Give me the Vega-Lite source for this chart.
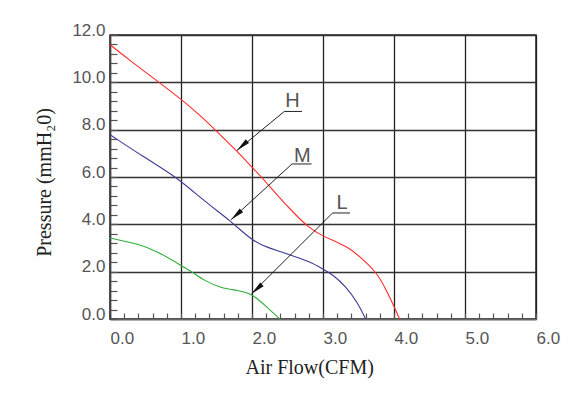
{
  "$schema": "https://vega.github.io/schema/vega-lite/v6.json",
  "autosize": "none",
  "width": 426,
  "height": 284,
  "padding": {"left": 110, "top": 35, "right": 42, "bottom": 79},
  "background": "white",
  "config": {
    "view": {"stroke": "#222", "strokeWidth": 1.5},
    "font": "Liberation Sans"
  },
  "datasets": {
    "curves": [
      {"fan": "H", "flow": 0.0, "pressure": 11.59},
      {"fan": "H", "flow": 0.27, "pressure": 10.95},
      {"fan": "H", "flow": 0.69, "pressure": 10.0},
      {"fan": "H", "flow": 1.0, "pressure": 9.29},
      {"fan": "H", "flow": 1.26, "pressure": 8.63},
      {"fan": "H", "flow": 1.48, "pressure": 8.0},
      {"fan": "H", "flow": 1.77, "pressure": 7.15},
      {"fan": "H", "flow": 2.01, "pressure": 6.38},
      {"fan": "H", "flow": 2.15, "pressure": 5.95},
      {"fan": "H", "flow": 2.39, "pressure": 5.11},
      {"fan": "H", "flow": 2.6, "pressure": 4.45},
      {"fan": "H", "flow": 2.78, "pressure": 3.9},
      {"fan": "H", "flow": 3.0, "pressure": 3.49},
      {"fan": "H", "flow": 3.18, "pressure": 3.28},
      {"fan": "H", "flow": 3.37, "pressure": 3.0},
      {"fan": "H", "flow": 3.54, "pressure": 2.58},
      {"fan": "H", "flow": 3.75, "pressure": 1.99},
      {"fan": "H", "flow": 3.89, "pressure": 1.24},
      {"fan": "H", "flow": 4.0, "pressure": 0.53},
      {"fan": "H", "flow": 4.08, "pressure": 0.0},
      {"fan": "M", "flow": 0.0, "pressure": 7.79},
      {"fan": "M", "flow": 0.46, "pressure": 6.87},
      {"fan": "M", "flow": 0.95, "pressure": 5.98},
      {"fan": "M", "flow": 1.33, "pressure": 4.97},
      {"fan": "M", "flow": 1.7, "pressure": 4.15},
      {"fan": "M", "flow": 2.0, "pressure": 3.3},
      {"fan": "M", "flow": 2.24, "pressure": 3.0},
      {"fan": "M", "flow": 2.39, "pressure": 2.86},
      {"fan": "M", "flow": 2.57, "pressure": 2.67},
      {"fan": "M", "flow": 2.81, "pressure": 2.43},
      {"fan": "M", "flow": 3.0, "pressure": 2.11},
      {"fan": "M", "flow": 3.14, "pressure": 1.87},
      {"fan": "M", "flow": 3.32, "pressure": 1.38},
      {"fan": "M", "flow": 3.49, "pressure": 0.68},
      {"fan": "M", "flow": 3.6, "pressure": 0.0},
      {"fan": "L", "flow": 0.0, "pressure": 3.42},
      {"fan": "L", "flow": 0.39, "pressure": 3.18},
      {"fan": "L", "flow": 0.67, "pressure": 2.86},
      {"fan": "L", "flow": 1.0, "pressure": 2.26},
      {"fan": "L", "flow": 1.15, "pressure": 2.0},
      {"fan": "L", "flow": 1.33, "pressure": 1.62},
      {"fan": "L", "flow": 1.56, "pressure": 1.31},
      {"fan": "L", "flow": 1.8, "pressure": 1.21},
      {"fan": "L", "flow": 2.0, "pressure": 1.07},
      {"fan": "L", "flow": 2.2, "pressure": 0.53},
      {"fan": "L", "flow": 2.39, "pressure": 0.0}
    ],
    "leaders": [
      {"fan": "H", "pt": 0, "flow": 1.788, "pressure": 7.12},
      {"fan": "H", "pt": 1, "flow": 2.455, "pressure": 8.77},
      {"fan": "H", "pt": 2, "flow": 2.704, "pressure": 8.77},
      {"fan": "M", "pt": 0, "flow": 1.704, "pressure": 4.19},
      {"fan": "M", "pt": 1, "flow": 2.563, "pressure": 6.55},
      {"fan": "M", "pt": 2, "flow": 2.839, "pressure": 6.55},
      {"fan": "L", "pt": 0, "flow": 1.994, "pressure": 1.07},
      {"fan": "L", "pt": 1, "flow": 3.135, "pressure": 4.48},
      {"fan": "L", "pt": 2, "flow": 3.38, "pressure": 4.48}
    ],
    "labels": [
      {"fan": "H", "flow": 2.57, "pressure": 8.96},
      {"fan": "M", "flow": 2.71, "pressure": 6.62},
      {"fan": "L", "flow": 3.27, "pressure": 4.65}
    ]
  },
  "layer": [
    {
      "data": {"name": "curves"},
      "mark": {"type": "line", "interpolate": "basis", "strokeWidth": 1.1, "clip": true},
      "encoding": {
        "x": {
          "field": "flow", "type": "quantitative",
          "scale": {"domain": [0, 6], "nice": false, "zero": false},
          "axis": {
            "title": "Air Flow(CFM)",
            "titleFont": "Liberation Serif", "titleFontSize": 20, "titleFontWeight": "normal", "titleColor": "#222",
            "titleAnchor": "start", "titleX": 135, "titleY": 54, "titleBaseline": "alphabetic", "titleAlign": "left",
            "values": [0, 0.2, 0.4, 0.6, 0.8, 1, 1.2, 1.4, 1.6, 1.8, 2, 2.2, 2.4, 2.6, 2.8, 3, 3.2, 3.4, 3.6, 3.8, 4, 4.2, 4.4, 4.6, 4.8, 5, 5.2, 5.4, 5.6, 5.8, 6],
            "tickCount": 60,
            "labelExpr": "abs(datum.value - round(datum.value)) < 0.001 ? format(datum.value, '.1f') : ''",
            "labelAlign": "left", "labelBaseline": "top", "labelPadding": 17, "labelFlush": false, "labelOverlap": false,
            "labelFont": "Liberation Sans", "labelFontSize": 17, "labelColor": "#555",
            "ticks": true, "tickSize": -6, "tickColor": "#555", "tickWidth": 1.2,
            "grid": true, "gridColor": "#222", "gridWidth": 1.3,
            "gridOpacity": {"condition": {"test": "abs(datum.value - round(datum.value)) < 0.001", "value": 1}, "value": 0},
            "domainColor": "#666", "domainWidth": 1.5
          }
        },
        "y": {
          "field": "pressure", "type": "quantitative",
          "scale": {"domain": [0, 12], "nice": false, "zero": false},
          "axis": {
            "title": "Pressure (mmH₂0)",
            "titleFont": "Liberation Serif", "titleFontSize": 20, "titleFontWeight": "normal", "titleColor": "#222",
            "titleX": -66, "titleY": 147, "titleAngle": 270, "titleBaseline": "middle", "titleAlign": "center",
            "values": [0, 0.4, 0.8, 1.2, 1.6, 2, 2.4, 2.8, 3.2, 3.6, 4, 4.4, 4.8, 5.2, 5.6, 6, 6.4, 6.8, 7.2, 7.6, 8, 8.4, 8.8, 9.2, 9.6, 10, 10.4, 10.8, 11.2, 11.6, 12],
            "tickCount": 60,
            "labelExpr": "abs(datum.value / 2 - round(datum.value / 2)) < 0.001 ? format(datum.value, '.1f') : ''",
            "labelAlign": "right", "labelBaseline": "alphabetic", "labelPadding": 12, "labelFlush": false, "labelOverlap": false,
            "labelFont": "Liberation Sans", "labelFontSize": 17, "labelColor": "#555",
            "ticks": true, "tickSize": -7, "tickColor": "#555", "tickWidth": 1.2,
            "grid": true, "gridColor": "#333", "gridWidth": 1.3,
            "gridOpacity": {"condition": {"test": "abs(datum.value / 2 - round(datum.value / 2)) < 0.001", "value": 1}, "value": 0},
            "domainColor": "#444", "domainWidth": 1.5
          }
        },
        "color": {
          "field": "fan", "type": "nominal",
          "scale": {"domain": ["H", "M", "L"], "range": ["#ff2a2a", "#3b3b96", "#2fae3c"]},
          "legend": null
        }
      }
    },
    {
      "data": {"name": "leaders"},
      "mark": {"type": "line", "color": "#222", "strokeWidth": 1},
      "encoding": {
        "x": {"field": "flow", "type": "quantitative"},
        "y": {"field": "pressure", "type": "quantitative"},
        "detail": {"field": "fan"},
        "order": {"field": "pt"}
      }
    },
    {
      "data": {"name": "leaders"},
      "transform": [{"filter": "datum.pt == 0"}],
      "mark": {"type": "point", "shape": "M0,0L0.36,2L-0.36,2Z", "filled": true, "color": "#111", "opacity": 1, "size": 196, "angle": 228},
      "encoding": {
        "x": {"field": "flow", "type": "quantitative"},
        "y": {"field": "pressure", "type": "quantitative"}
      }
    },
    {
      "data": {"name": "labels"},
      "mark": {"type": "text", "font": "Liberation Sans", "fontSize": 20, "color": "#555", "align": "center", "baseline": "alphabetic"},
      "encoding": {
        "x": {"field": "flow", "type": "quantitative"},
        "y": {"field": "pressure", "type": "quantitative"},
        "text": {"field": "fan"}
      }
    }
  ]
}
